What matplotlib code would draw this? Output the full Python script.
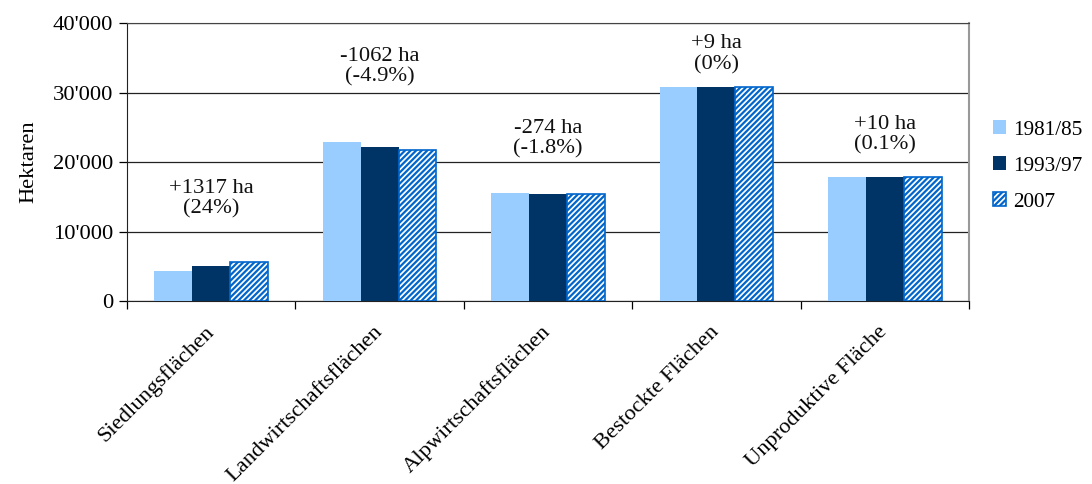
import numpy as np
import matplotlib.pyplot as plt

## Daten
kategorien = ['Siedlungsflächen', 'Landwirtschaftsflächen', 'Alpwirtschaftsflächen',
              'Bestockte Flächen', 'Unproduktive Fläche']
werte_1985 = [4300, 22830, 15600, 30750, 17900]
werte_1997 = [5000, 22200, 15400, 30750, 17900]
werte_2007 = [5550, 21700, 15350, 30750, 17900]
jahre = ['1981/85', '1993/97', '2007']
veraenderung = ['+1317 ha\n(24%)', '-1062 ha\n(-4.9%)', '-274 ha\n(-1.8%)',
                '+9 ha\n(0%)', '+10 ha\n(0.1%)']

plt.rcParams['font.family'] = ['Liberation Serif', 'DejaVu Serif']
plt.rcParams['hatch.linewidth'] = 1.6
plt.rcParams['hatch.color'] = '#0066CC'
fs = 16.2

fig = plt.figure(figsize=(10.92, 4.84), dpi=100)
ax = fig.add_axes([0.1163, 0.378, 0.771, 0.5745])

x = np.arange(len(kategorien))
b = 0.225
ax.bar(x - b, werte_1985, b, color='#99CCFF', label=jahre[0], zorder=3)
ax.bar(x, werte_1997, b, color='#003366', label=jahre[1], zorder=3)
ax.bar(x + b, werte_2007, b, color='white', edgecolor='#0066CC', linewidth=1.2,
       hatch='//////', label=jahre[2], zorder=3)

# Texte über den Gruppen (Position in Hektaren)
text_y = [14700, 33700, 23400, 35500, 23900]
for i, t in enumerate(veraenderung):
    ax.text(x[i], text_y[i], t, ha='center', va='center', fontsize=fs,
            linespacing=1.1, color='#111111')

ax.set_xlim(-0.5, len(kategorien) - 0.5)
ax.set_ylim(0, 40000)
ax.set_yticks([0, 10000, 20000, 30000, 40000])
ax.set_yticklabels(["0", "10'000", "20'000", "30'000", "40'000"], fontsize=fs)
ax.yaxis.grid(True, color='#222222', linewidth=0.9, zorder=0)
ax.set_axisbelow(True)

# Striche an den Kategoriengrenzen, Beschriftung in der Mitte
ax.set_xticks(np.arange(len(kategorien) + 1) - 0.5)
ax.set_xticklabels([])
ax.set_xticks(x, minor=True)
ax.set_xticklabels(kategorien, minor=True, rotation=45, ha='right', va='center',
                   rotation_mode='anchor', fontsize=fs)
ax.tick_params(axis='x', which='minor', length=0, pad=20)
ax.tick_params(axis='x', which='major', direction='out', length=6, width=0.9)
ax.tick_params(axis='y', direction='out', length=6, width=0.9, pad=4)

ax.spines['top'].set_color('#444444')
ax.spines['right'].set_color('#999999')
ax.spines['right'].set_linewidth(1.5)
ax.spines['left'].set_color('#222222')
ax.spines['bottom'].set_color('#222222')

ax.set_ylabel('Hektaren', fontsize=fs, labelpad=10)

fig.legend(loc='upper left', bbox_to_anchor=(0.909, 0.752), frameon=False,
           fontsize=15.3, handlelength=0.65, handleheight=0.65, handletextpad=0.3,
           labelspacing=0.78, borderaxespad=0, borderpad=0)

fig.savefig('out.png', dpi=100)
